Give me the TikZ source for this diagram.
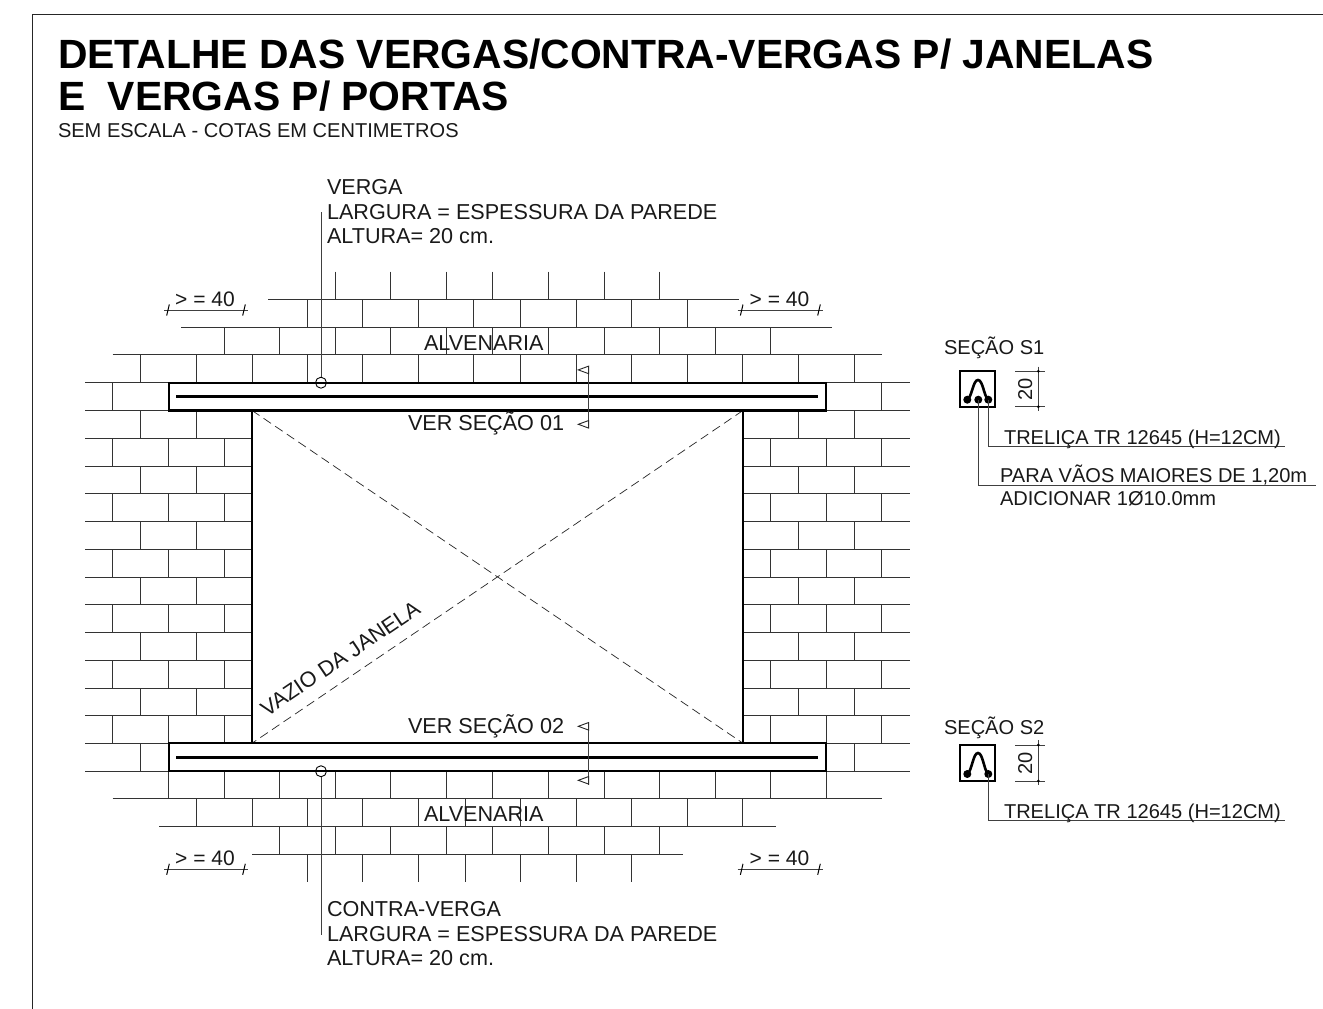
\documentclass[tikz,border=0pt]{standalone}
\usepackage{fontspec}
\setmainfont{Liberation Sans}
\usetikzlibrary{calc}
\tikzset{
  x=1pt,y=-1pt,
  brick/.style={line width=0.85pt,draw=black!80},
  heavy/.style={line width=2.3pt,draw=black,line cap=rect},
  frameline/.style={line width=0.9pt,draw=black!85},
  leader/.style={line width=0.9pt,draw=black!75},
  dimline/.style={line width=0.95pt,draw=black!75},
  hatch/.style={line width=1pt,draw=black},
  window/.style={line width=0.7pt,draw=black!85,dash pattern=on 9pt off 5pt},
  lab/.style={anchor=base west,inner sep=0pt,outer sep=0pt,font=\fontsize{21.6}{21}\selectfont,text=black!90},
  sidelab/.style={lab,font=\fontsize{20.05}{20}\selectfont},
  dimlab/.style={anchor=base,inner sep=0pt,outer sep=0pt,font=\fontsize{21}{21}\selectfont,text=black!90},
  titlelab/.style={anchor=base west,inner sep=0pt,outer sep=0pt,font=\fontsize{40.85}{40}\bfseries\selectfont,text=black},
  marker/.style={draw=black!85,line width=0.9pt},
  barpoint/.style={circle,fill=black,inner sep=0pt,minimum size=8pt},
  ring/.style={circle,draw=black,line width=0.9pt,fill=none,inner sep=0pt,minimum size=11pt}
}
\begin{document}
\begin{tikzpicture}
\useasboundingbox (0,0) rectangle (1323,1009);
\fill[white] (0,0) rectangle (1323,1009);
\draw[frameline] (32,1009) -- (32,14) -- (1323,14);

% horizontal joints
\foreach \yy/\xa/\xb in {
  299.3/268/739, 327.1/181/831.7, 354.9/112.7/881.7,
  798.75/112.7/881.7, 826.5/159.3/776.3, 854.25/252/683}
  \draw[brick] (\xa,\yy) -- (\xb,\yy);
\foreach \yy in {382.7,410.5,438.25,466,493.75,521.5,549.25,577,604.75,632.5,660.25,688,715.75,743.25,771.25}{
  \draw[brick] (85,\yy) -- (252,\yy);
  \draw[brick] (743,\yy) -- (910,\yy);
}
% courses above
\foreach \xx in {335.3,390.3,446,492.7,548.7,604,659.3}
  \draw[brick] (\xx,271.5) -- (\xx,299.3);
\foreach \xx in {307.7,362.3,418.3,473.3,520.7,576.3,631.7,687}
  \draw[brick] (\xx,299.3) -- (\xx,327.1);
\foreach \xx in {224.3,279.3,335.3,390.3,446,492.7,548.7,604,659.3,715,770.3}
  \draw[brick] (\xx,327.1) -- (\xx,354.9);
\foreach \xx in {140.7,196.3,252,307.7,362.3,418.3,473.3,520.7,576.3,631.7,687,742.7,798.3,854}
  \draw[brick] (\xx,354.9) -- (\xx,382.7);
% side courses
\foreach \xx in {112.7,881.3}
  \draw[brick] (\xx,382.7) -- (\xx,410.5);
\foreach \ya/\yb in {410.5/438.25,466/493.75,521.5/549.25,577/604.75,632.5/660.25,688/715.75}
  \foreach \xx in {140.7,196.3,798.3,854}
    \draw[brick] (\xx,\ya) -- (\xx,\yb);
\foreach \ya/\yb in {438.25/466,493.75/521.5,549.25/577,604.75/632.5,660.25/688,715.75/743.25}
  \foreach \xx in {112.7,168.7,224.3,770.3,826,881.3}
    \draw[brick] (\xx,\ya) -- (\xx,\yb);
\foreach \xx in {140.7,854}
  \draw[brick] (\xx,743.25) -- (\xx,771.25);
% courses below
\foreach \xx in {168.7,224.3,279.3,335.3,390.3,446,492.7,548.3,604,659.3,715,770.3,826}
  \draw[brick] (\xx,771.25) -- (\xx,798.75);
\foreach \xx in {196.3,252,307.7,362.7,418.3,465.7,520.7,576.3,631.7,687,742.7}
  \draw[brick] (\xx,798.75) -- (\xx,826.5);
\foreach \xx in {279.3,335.3,390.3,446,492.7,548.3,604,659.3}
  \draw[brick] (\xx,826.5) -- (\xx,854.25);
\foreach \xx in {307.7,362.7,418.3,465.7,520.7,576.3,631.7}
  \draw[brick] (\xx,854.25) -- (\xx,882);

% opening
\draw[window] (252,410.5) -- (743,743.25);
\draw[window] (743,410.5) -- (252,743.25);
\draw[heavy,line cap=butt] (252,410.5) -- (252,743.25);
\draw[heavy,line cap=butt] (743,410.5) -- (743,743.25);

% lintels
\draw[heavy,fill=white] (169,382.7) rectangle (826,410.5);
\draw[heavy,line cap=butt] (176,396.5) -- (818.3,396.5);
\draw[heavy,fill=white] (169,743.25) rectangle (826,771.25);
\draw[heavy,line cap=butt] (176,757.5) -- (818.3,757.5);

% leaders
\node[ring] (ringtop) at (321,382.7) {};
\node[ring] (ringbot) at (321,771.25) {};
\coordinate (leadtop) at (321,211.7);
\coordinate (leadbot) at (321,935);
\draw[leader] (ringtop) -- (leadtop);
\draw[leader] (ringbot) -- (leadbot);

% section marks
\foreach \ya/\yb/\ta/\tb in {366/428/369.9/424.3, 722.5/784.5/726.3/780.3}{
  \draw[leader] (588.7,\ya) -- (588.7,\yb);
  \draw[marker] (588.7,\ta-3.8) -- (578.3,\ta) -- (588.7,\ta+3.8) -- cycle;
  \draw[marker] (588.7,\tb-3.8) -- (578.3,\tb) -- (588.7,\tb+3.8) -- cycle;
}

% dimensions >= 40
\foreach \xa/\xb/\yy in {168/244/310, 741.7/819/310, 168/244/869.3, 741.7/819/869.3}{
  \draw[dimline] (\xa-4,\yy) -- (\xb+4,\yy);
  \draw[hatch] (\xa-1.3,\yy+5.5) -- (\xa+1.3,\yy-5.5);
  \draw[hatch] (\xb-1.3,\yy+5.5) -- (\xb+1.3,\yy-5.5);
}
\node[dimlab] (d1) at (205,306) {> = 40};
\node[dimlab] (d2) at (779.5,306) {> = 40};
\node[dimlab] (d3) at (205,865.5) {> = 40};
\node[dimlab] (d4) at (779.5,865.5) {> = 40};

% title
\node[titlelab] (t1) at (58,68) {DETALHE DAS VERGAS/CONTRA-VERGAS P/ JANELAS};
\node[titlelab] (t2) at (58,110) {E\ \ VERGAS P/ PORTAS};
\node[sidelab] (t3) at (58,137) {SEM ESCALA - COTAS EM CENTIMETROS};

% notes
\node[lab] (n1) at (327,194) {VERGA};
\node[lab] (n2) at (327,219) {LARGURA = ESPESSURA DA PAREDE};
\node[lab] (n3) at (327,243.3) {ALTURA= 20 cm.};
\node[lab] (n4) at (327,916.7) {CONTRA-VERGA};
\node[lab] (n5) at (327,941.7) {LARGURA = ESPESSURA DA PAREDE};
\node[lab] (n6) at (327,965.7) {ALTURA= 20 cm.};
\node[lab] (a1) at (424,350) {ALVENARIA};
\node[lab] (a2) at (424,821) {ALVENARIA};
\node[lab] (v1) at (408,430) {VER SEÇÃO 01};
\node[lab] (v2) at (408,733) {VER SEÇÃO 02};
\node[lab,rotate=34.1] (vz) at (267,717) {VAZIO DA JANELA};

% section S1
\node[sidelab] (s1) at (944,354) {SEÇÃO S1};
\draw[heavy,line cap=butt] (960,371.3) rectangle (995,406.7);
\node[barpoint] (b1) at (967.3,399.7) {};
\node[barpoint] (b2) at (978.3,399.7) {};
\node[barpoint] (b3) at (988.3,399.7) {};
\draw[line width=2.6pt] (b1.center) .. controls (972,397) and (973,380) .. (978,380) .. controls (983,380) and (984,397) .. (b3.center);
\coordinate (c1) at (1285,446.7);
\coordinate (c2) at (1315.7,485.7);
\draw[leader] (b3.center) |- (c1);
\draw[leader] (b2.center) |- (c2);
\node[sidelab] (s1a) at (1004,444) {TRELIÇA TR 12645 (H=12CM)};
\node[sidelab] (s1b) at (1000,482) {PARA VÃOS MAIORES DE 1,20m};
\node[sidelab] (s1c) at (1000,505) {ADICIONAR 1Ø10.0mm};
\draw[dimline] (1015.3,371.3) -- (1045,371.3);
\draw[dimline] (1015.3,406.7) -- (1045,406.7);
\draw[dimline] (1038.3,366.7) -- (1038.3,411);
\fill (1038.3,371.3) circle (1.5pt);
\fill (1038.3,406.7) circle (1.5pt);
\node[sidelab,anchor=base,rotate=90] (s1d) at (1032,389) {20};

% section S2
\node[sidelab] (s2) at (944,734) {SEÇÃO S2};
\draw[heavy,line cap=butt] (960,745) rectangle (995,781);
\node[barpoint] (e1) at (967.3,774) {};
\node[barpoint] (e3) at (988.3,774) {};
\draw[line width=2.6pt] (e1.center) .. controls (972,771) and (973,753) .. (978,753) .. controls (983,753) and (984,771) .. (e3.center);
\coordinate (c3) at (1285,820.3);
\draw[leader] (e3.center) |- (c3);
\node[sidelab] (s2a) at (1004,818) {TRELIÇA TR 12645 (H=12CM)};
\draw[dimline] (1015.3,745) -- (1045,745);
\draw[dimline] (1015.3,781) -- (1045,781);
\draw[dimline] (1038.3,740) -- (1038.3,785);
\fill (1038.3,745) circle (1.5pt);
\fill (1038.3,781) circle (1.5pt);
\node[sidelab,anchor=base,rotate=90] (s2d) at (1032,763) {20};
\end{tikzpicture}
\end{document}
